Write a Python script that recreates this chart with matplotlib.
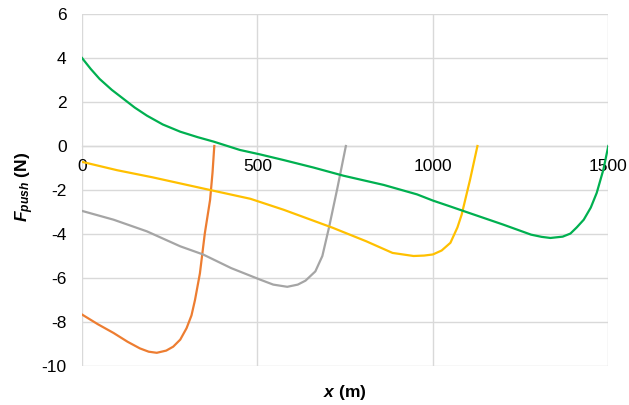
import matplotlib
matplotlib.use("Agg")
from matplotlib import pyplot as plt

# Push force along the track, one series per run length
orange_x = [0, 45, 90, 130, 165, 190, 213, 240, 260, 280, 298, 312, 322, 336, 350, 365, 372, 377]
orange_y = [-7.66, -8.1, -8.5, -8.9, -9.2, -9.35, -9.4, -9.3, -9.12, -8.8, -8.28, -7.7, -7.0,
            -5.79, -3.97, -2.45, -1.2, 0]

gray_x = [0, 90, 185, 280, 345, 425, 507, 545, 585, 615, 637, 665, 685, 704, 728, 752]
gray_y = [-2.95, -3.35, -3.88, -4.56, -4.93, -5.55, -6.07, -6.3, -6.4, -6.3, -6.12, -5.7, -5.0,
          -3.7, -1.9, 0]

yellow_x = [0, 100, 200, 365, 480, 575, 715, 810, 885, 945, 975, 1000, 1025, 1050, 1070, 1082,
            1106, 1127]
yellow_y = [-0.72, -1.1, -1.42, -2.0, -2.4, -2.9, -3.72, -4.33, -4.86, -5.0, -4.98, -4.93, -4.75,
            -4.4, -3.7, -3.12, -1.53, 0]

green_x = [0, 25, 50, 85, 120, 150, 185, 230, 280, 330, 375, 450, 507, 575, 660, 745, 860, 955,
           1000, 1050, 1090, 1200, 1280, 1310, 1335, 1370, 1392, 1410, 1430, 1450, 1467, 1486, 1500]
green_y = [4.0, 3.5, 3.05, 2.55, 2.12, 1.75, 1.38, 0.98, 0.65, 0.4, 0.2, -0.18, -0.38, -0.64,
           -0.98, -1.35, -1.77, -2.2, -2.48, -2.75, -2.97, -3.57, -4.03, -4.13, -4.18, -4.12,
           -3.98, -3.7, -3.35, -2.8, -2.13, -1.07, 0]

x_ticks = [0, 500, 1000, 1500]
y_ticks = [-10, -8, -6, -4, -2, 0, 2, 4, 6]

plt.rcParams['font.family'] = ['Liberation Sans', 'DejaVu Sans']
plt.rcParams['mathtext.fontset'] = 'custom'
plt.rcParams['mathtext.it'] = 'Liberation Sans:italic:bold'
plt.rcParams['mathtext.rm'] = 'Liberation Sans:bold'

fig = plt.figure(figsize=(6.29, 4.05), dpi=100)
ax = fig.add_axes([0.1304, 0.0963, 0.8367, 0.8691])

grid_c = '#D9D9D9'
lw = 1.6
ax.plot(orange_x, orange_y, color='#ED7D31', lw=lw, zorder=3)
ax.plot(gray_x, gray_y, color='#A5A5A5', lw=lw, zorder=3)
ax.plot(yellow_x, yellow_y, color='#FFC000', lw=lw, zorder=3)
ax.plot(green_x, green_y, color='#00B050', lw=lw, zorder=3)

ax.set_xlim(0, 1500)
ax.set_ylim(-10, 6)
ax.set_xticks(x_ticks)
ax.set_yticks(y_ticks)
ax.set_yticklabels([str(v) for v in y_ticks])
ax.grid(True, color=grid_c, lw=1.0, zorder=0)
ax.set_axisbelow(True)

for side in ['top', 'right', 'left']:
    ax.spines[side].set_visible(False)
ax.spines['bottom'].set_position(('data', 0))
ax.spines['bottom'].set_color(grid_c)
ax.spines['bottom'].set_linewidth(1.0)

ax.tick_params(axis='both', length=0, labelsize=12.5, colors='black')
ax.tick_params(axis='x', pad=9)
ax.tick_params(axis='y', pad=11)

ax.text(-0.108, 0.51, r'$F_{push}$ (N)', transform=ax.transAxes, rotation=90,
        ha='center', va='center', fontsize=12.5, fontweight='bold')
ax.text(0.5, -0.075, r'$x$ (m)', transform=ax.transAxes,
        ha='center', va='center', fontsize=12.5, fontweight='bold')

fig.savefig('out.png', dpi=100)
